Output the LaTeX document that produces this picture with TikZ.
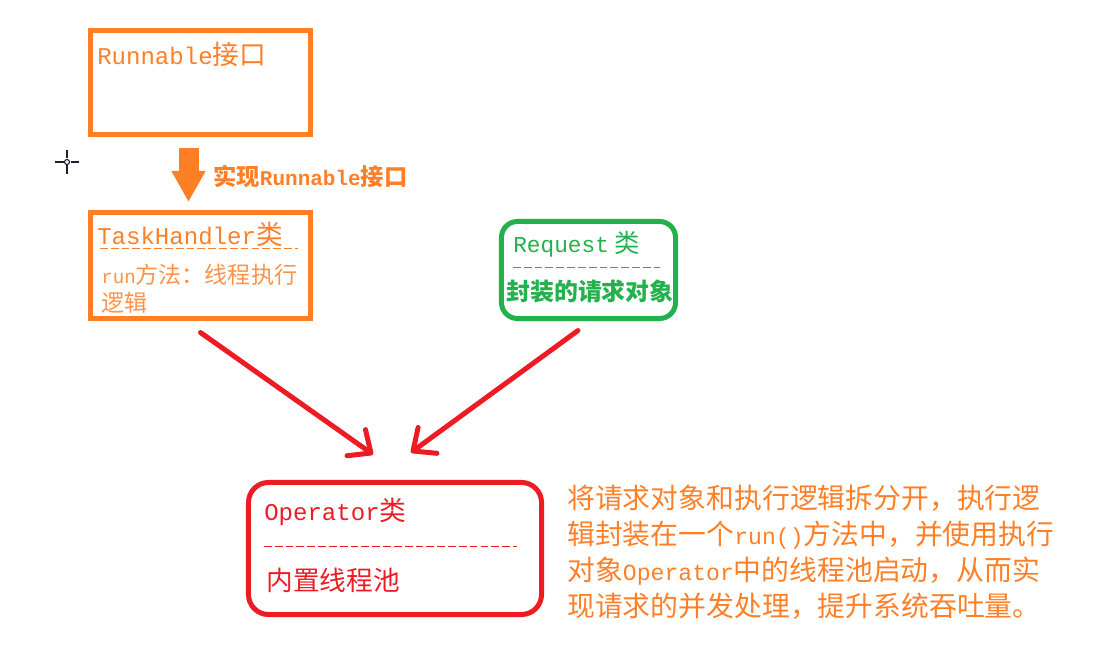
\documentclass[tikz,border=0pt]{standalone}
\usepackage{fontspec}
\setmainfont{Noto Sans CJK SC}
\newfontfamily\lat[Scale=0.83]{Liberation Mono}
\newfontfamily\latw[Scale=0.9]{Liberation Mono}
\usepackage{xcolor}
\definecolor{paintOrange}{HTML}{FF7F27}
\definecolor{paintGreen}{HTML}{22B14C}
\definecolor{paintRed}{HTML}{ED1C24}
\definecolor{cursorInk}{HTML}{1E1E2E}
\usepackage{tikz}
\usetikzlibrary{arrows.meta}

\begin{document}
\begin{tikzpicture}[x=0.025cm, y=-0.025cm,
  box/.style={draw, line width=0.125cm, inner sep=0pt},
  txt/.style={anchor=west, inner sep=0pt},
  title/.style={txt, font=\fontsize{19}{23}\selectfont},
  sep/.style={line width=0.6pt, dash pattern=on 5.5pt off 2.2pt},
  implarrow/.style={paintOrange, line width=0.5cm, -{Triangle[length=0.775cm, width=0.8cm]}},
  usearrow/.style={paintRed, line width=0.125cm, line cap=round, -{Straight Barb[length=0.45cm, width=0.8cm, round]}}]
  \useasboundingbox (0,0) rectangle (1110,668);
  % ------- cursor -------
  \begin{scope}[cursorInk, line width=1.5pt]
    \draw (55,162) -- (63.5,162) (70.5,162) -- (79,162);
    \draw (67,150) -- (67,158.5) (67,165.5) -- (67,174);
    \draw[line width=0.8pt] (67,162) circle (2.5);
  \end{scope}
  % ------- Runnable interface -------
  \node[box, paintOrange, minimum width=5.5cm, minimum height=2.6cm] (run) at (200.5,82.5) {};
  \node[title, paintOrange] (runT) at (97,54) {{\latw Runnable}接口};
  % ------- TaskHandler -------
  \node[box, paintOrange, minimum width=5.5cm, minimum height=2.65cm] (task) at (200.5,265.5) {};
  \node[title, paintOrange] (taskT) at (97,234) {{\latw TaskHandler}类};
  \draw[sep, paintOrange] (100,248) -- (298,248);
  \node[anchor=north west, inner sep=0pt, align=left, paintOrange!85,
        font=\fontsize{16.4}{20}\selectfont] (taskB) at (101,264)
    {{\lat run}方法：线程执行\\逻辑};
  % implements
  \draw[implarrow] ([shift={(-12,11)}]run.south) -- ([shift={(-12,-8)}]task.north);
  \node[txt, paintOrange, font=\bfseries\fontsize{16.6}{20}\selectfont] (implT) at (213,176)
    {实现{\latw Runnable}接口};
  % ------- Request -------
  \node[box, paintGreen, rounded corners=0.4cm, minimum width=4.35cm, minimum height=2.425cm] (req) at (588.5,270) {};
  \node[title, paintGreen, font=\fontsize{18}{22}\selectfont] (reqT) at (513,244) {{\latw Request} 类};
  \draw[sep, paintGreen] (513,267) -- (660,267);
  \node[txt, paintGreen, font=\bfseries\fontsize{17}{20}\selectfont] (reqB) at (506,291) {封装的请求对象};
  % ------- Operator -------
  \node[box, paintRed, rounded corners=0.5cm, minimum width=7.325cm, minimum height=3.3cm] (op) at (395,548.5) {};
  \node[title, paintRed] (opT) at (264,512) {{\latw Operator}类};
  \draw[sep, paintRed] (264,546) -- (517,546);
  \node[txt, paintRed, font=\fontsize{19}{22}\selectfont] (opB) at (266,580) {内置线程池};
  % uses
  \draw[usearrow] ([shift={(0,11.5)}]task.south) -- ([shift={(-22,-25.5)}]op.north);
  \draw[usearrow] ([shift={(-10.5,9.5)}]req.south) -- ([shift={(16,-27.5)}]op.north);
  % ------- note -------
  \node[anchor=north west, inner sep=0pt, align=left, paintOrange,
        font=\fontsize{19.8}{25.6}\selectfont] (note) at (567,485)
    {将请求对象和执行逻辑拆分开，执行逻\\
     辑封装在一个{\lat run()}方法中，并使用执行\\
     对象{\lat Operator}中的线程池启动，从而实\\
     现请求的并发处理，提升系统吞吐量。};
\end{tikzpicture}
\end{document}
